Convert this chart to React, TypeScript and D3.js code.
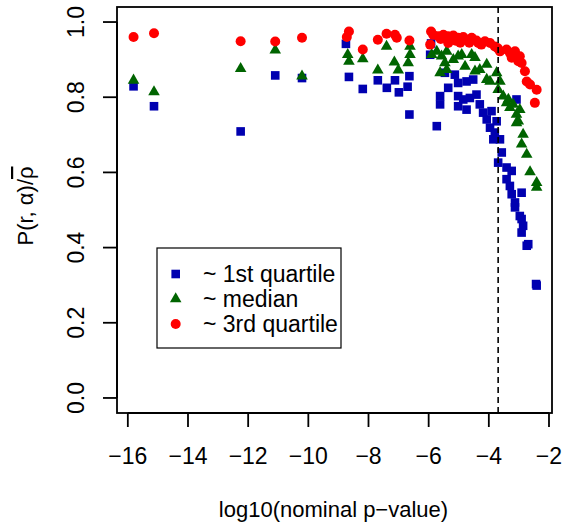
import * as d3 from "d3";

// values
const q1X = [-15.81, -15.13, -12.25, -11.10, -10.21, -8.75, -8.65, -8.19, -7.69, -7.39, -7.12, -6.99, -6.64, -6.70, -6.64, -5.95, -5.92, -5.73,
    -5.46, -5.13, -5.02, -4.74, -4.52, -5.35, -5.62, -5.62, -5.02, -4.85, -4.63, -4.41, -4.30, -5.02, -4.74, -4.19, -4.07, -3.91, -3.96, -3.80,
    -3.74, -3.85, -3.63, -3.57, -3.69, -3.41, -3.24, -3.41, -3.30, -3.24, -2.91, -3.13, -3.13, -2.97, -2.91, -2.86, -2.91, -2.69, -2.74, -2.41, -2.43, -3.08];
const q1Y = [0.829, 0.776, 0.709, 0.858, 0.851, 0.942, 0.854, 0.822, 0.845, 0.825, 0.845, 0.813, 0.856, 0.828, 0.754, 0.913, 0.943, 0.723,
    0.865, 0.860, 0.838, 0.842, 0.847, 0.825, 0.803, 0.781, 0.803, 0.794, 0.798, 0.807, 0.781, 0.776, 0.767, 0.759, 0.741, 0.763, 0.719, 0.706,
    0.736, 0.688, 0.688, 0.653, 0.626, 0.613, 0.604, 0.582, 0.564, 0.542, 0.546, 0.520, 0.507, 0.484, 0.476, 0.458, 0.440, 0.409, 0.405, 0.299, 0.303, 0.794];

const medX = [-15.81, -15.13, -12.25, -11.10, -10.21, -8.69, -8.65, -8.19, -7.69, -7.40, -7.14, -7.01, -6.62, -6.62, -6.68, -5.90, -5.73, -5.62, -5.57, -5.46, -5.40, -5.40, -5.18, -5.02, -4.90, -4.79, -4.57, -4.46, -4.46, -4.30, -4.07, -4.07, -3.96, -3.74, -3.69, -3.63, -3.52, -3.41, -3.35, -3.30, -3.19, -3.08, -2.97, -3.02, -3.08, -2.86, -2.91, -2.74, -2.63, -2.41, -2.41];
const medY = [0.845, 0.814, 0.876, 0.925, 0.856, 0.913, 0.895, 0.902, 0.872, 0.935, 0.893, 0.872, 0.935, 0.913, 0.891, 0.913, 0.922, 0.865, 0.909, 0.891, 0.922, 0.873, 0.900, 0.909, 0.913, 0.882, 0.913, 0.905, 0.869, 0.873, 0.887, 0.847, 0.842, 0.865, 0.820, 0.842, 0.803, 0.785, 0.794, 0.772, 0.781, 0.754, 0.767, 0.736, 0.732, 0.701, 0.675, 0.648, 0.601, 0.573, 0.560];

const q3X = [-15.81, -15.13, -12.25, -11.10, -10.21, -8.72, -8.65, -8.19, -7.69, -7.40, -7.12, -7.06, -6.64, -5.92, -5.85, -5.95, -5.68, -5.51, -5.35, -5.35, -5.18, -5.02, -4.85, -4.74, -4.57, -4.41, -4.35, -4.13, -3.96, -3.80, -3.63, -3.41, -3.30, -3.24, -3.13, -2.97, -3.02, -2.91, -2.80, -2.74, -2.63, -2.41, -2.47, -5.60, -5.10, -4.65, -4.95, -4.25, -3.70];
const q3Y = [0.960, 0.970, 0.949, 0.948, 0.958, 0.960, 0.975, 0.927, 0.953, 0.969, 0.966, 0.958, 0.951, 0.975, 0.966, 0.940, 0.962, 0.966, 0.962, 0.944, 0.964, 0.958, 0.960, 0.953, 0.958, 0.951, 0.944, 0.949, 0.944, 0.935, 0.922, 0.927, 0.918, 0.905, 0.922, 0.909, 0.896, 0.891, 0.869, 0.842, 0.834, 0.820, 0.785, 0.955, 0.950, 0.945, 0.945, 0.940, 0.930];

const xTicks = [-16, -14, -12, -10, -8, -6, -4, -2];
const yTicks = [0, 0.2, 0.4, 0.6, 0.8, 1.0];
const cutoff = -3.69;
const legendLabels = ["~ 1st quartile", "~ median", "~ 3rd quartile"];

const blue = "#0000b0";
const green = "#006400";
const red = "#ff0000";

export default function App() {
    const width = 562;
    const height = 527;
    const left = 117, right = 552, top = 7, bottom = 413;
    const x = d3.scaleLinear([-16.36, -1.9], [left, right]);
    const y = d3.scaleLinear([-0.04, 1.04], [bottom, top]);
    const fx = d3.format("d");
    const fy = d3.format(".1f");
    const tri = d3.symbol(d3.symbolTriangle, 58)() as string;
    const sq = 8.6;
    const font = "Liberation Sans, Arial, Helvetica, sans-serif";

    const legX = 157, legY = 248;
    const rowY = (i: number) => legY + 26 + i * 25;

    return (
        <svg width={width} height={height} style={{ position: "absolute", left: 0, top: 0, background: "white" }} fontFamily={font}>
            {/* points */}
            <g fill={blue}>
                {q1X.map((d, i) => (<rect key={i} x={x(d) - sq / 2} y={y(q1Y[i]) - sq / 2} width={sq} height={sq} />))}
            </g>
            <g fill={green}>
                {medX.map((d, i) => (<path key={i} d={tri} transform={`translate(${x(d)},${y(medY[i])})`} />))}
            </g>
            <g fill={red}>
                {q3X.map((d, i) => (<circle key={i} cx={x(d)} cy={y(q3Y[i])} r={5} />))}
            </g>

            {/* cutoff line */}
            <line x1={x(cutoff)} x2={x(cutoff)} y1={top} y2={bottom} stroke="black" strokeWidth={1.6} strokeDasharray="6,4" />

            {/* box */}
            <rect x={left} y={top} width={right - left} height={bottom - top} fill="none" stroke="black" strokeWidth={1.8} />

            {/* x axis */}
            <g stroke="black" strokeWidth={1.8}>
                <line x1={x(xTicks[0])} x2={x(xTicks[xTicks.length - 1])} y1={bottom} y2={bottom} />
                {xTicks.map((t) => (<line key={t} x1={x(t)} x2={x(t)} y1={bottom} y2={bottom + 14} />))}
            </g>
            <g fontSize={23} textAnchor="middle">
                {xTicks.map((t) => (<text key={t} x={x(t)} y={464}>{fx(t)}</text>))}
            </g>
            <text x={(left + right) / 2 - 1} y={517} fontSize={22} textAnchor="middle">log10(nominal p−value)</text>

            {/* y axis */}
            <g stroke="black" strokeWidth={1.8}>
                <line x1={left} x2={left} y1={y(yTicks[0])} y2={y(yTicks[yTicks.length - 1])} />
                {yTicks.map((t) => (<line key={t} x1={left} x2={left - 14} y1={y(t)} y2={y(t)} />))}
            </g>
            <g fontSize={23} textAnchor="middle">
                {yTicks.map((t) => (<text key={t} transform={`translate(84,${y(t)}) rotate(-90)`}>{fy(t)}</text>))}
            </g>
            <text transform={`translate(33,${(top + bottom) / 2 - 4}) rotate(-90)`} fontSize={22} textAnchor="middle">
                P(r, α)/<tspan style={{ textDecoration: "overline" }}>ρ</tspan>
            </text>

            {/* legend */}
            <rect x={legX} y={legY} width={184} height={100} fill="white" stroke="black" strokeWidth={1.2} />
            <rect x={legX + 18.7 - sq / 2} y={rowY(0) - sq / 2} width={sq} height={sq} fill={blue} />
            <path d={tri} transform={`translate(${legX + 18.7},${rowY(1)})`} fill={green} />
            <circle cx={legX + 18.7} cy={rowY(2)} r={5} fill={red} />
            <g fontSize={23}>
                {legendLabels.map((s, i) => (<text key={s} x={legX + 46} y={rowY(i) + 8}>{s}</text>))}
            </g>
        </svg>
    );
}
